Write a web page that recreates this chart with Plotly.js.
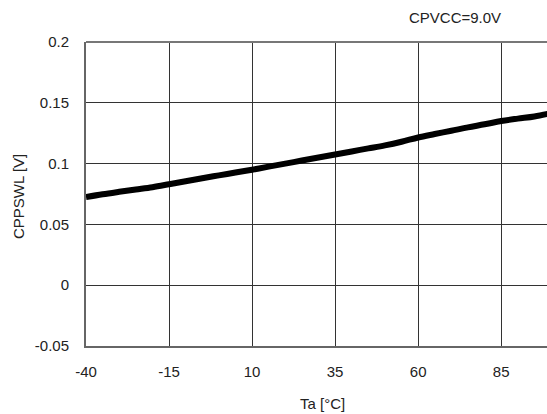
<!DOCTYPE html>
<html><head><meta charset="utf-8">
<script src="https://cdn.plot.ly/plotly-3.0.1.min.js"></script>
<style>html,body{margin:0;padding:0;background:#fff}</style>
</head><body>
<div id="chart" style="width:547px;height:414px"></div>
<script>
const ta = [-40,-35,-30,-25,-20,-15,-10,-5,0,5,10,15,20,25,30,35,40,45,50,55,60,65,70,75,80,85,90,95,100];
const cppswl = [0.0725,0.0748,0.0768,0.0787,0.0806,0.083,0.0855,0.088,0.0903,0.0927,0.095,0.0975,0.1,0.1025,0.105,0.1075,0.11,0.1125,0.115,0.118,0.1215,0.1243,0.127,0.1298,0.1323,0.135,0.137,0.1388,0.1415];
const xTicks = [-40,-15,10,35,60,85];
const xTickText = ['-40','-15','10','35','60','85'];
const yTicks = [-0.05,0,0.05,0.1,0.15,0.2];
const yTickText = ['-0.05','0','0.05','0.1','0.15','0.2'];

const font = {family:'Liberation Sans, Arial, sans-serif', size:15, color:'#222'};
Plotly.newPlot('chart', [{
  x: ta, y: cppswl, type:'scatter', mode:'lines',
  line:{color:'#000', width:6, shape:'spline'}, hoverinfo:'none', cliponaxis:true
}], {
  width:547, height:414,
  margin:{l:86, r:0, t:42, b:68},
  paper_bgcolor:'#fff', plot_bgcolor:'#fff',
  showlegend:false, font:font,
  xaxis:{range:[-40,98.8], tickvals:xTicks, ticktext:xTickText,
    showgrid:true, gridcolor:'#333', gridwidth:1, zeroline:false,
    showline:true, linecolor:'#666', linewidth:2, mirror:false,
    ticks:'', ticklabelstandoff:11, tickfont:font},
  yaxis:{range:[-0.05,0.2], tickvals:yTicks, ticktext:yTickText,
    showgrid:true, gridcolor:'#333', gridwidth:1, zeroline:false,
    showline:true, linecolor:'#666', linewidth:2, mirror:false,
    ticks:'', ticklabelstandoff:12, tickfont:font},
  shapes:[{type:'line', xref:'paper', yref:'paper', x0:0, x1:1, y0:1, y1:1, line:{color:'#777', width:2}}],
  annotations:[
    {text:'CPVCC=9.0V', xref:'paper', yref:'paper', x:0.800, y:1.079, xanchor:'center', yanchor:'middle', showarrow:false, font:font},
    {text:'Ta [°C]', xref:'paper', yref:'paper', x:0.514, y:-0.1887, xanchor:'center', yanchor:'middle', showarrow:false, font:font},
    {text:'CPPSWL [V]', xref:'paper', yref:'paper', x:-0.1475, y:0.49, xanchor:'center', yanchor:'middle', textangle:-90, showarrow:false, font:font}
  ]
}, {staticPlot:true});
</script>
</body></html>
